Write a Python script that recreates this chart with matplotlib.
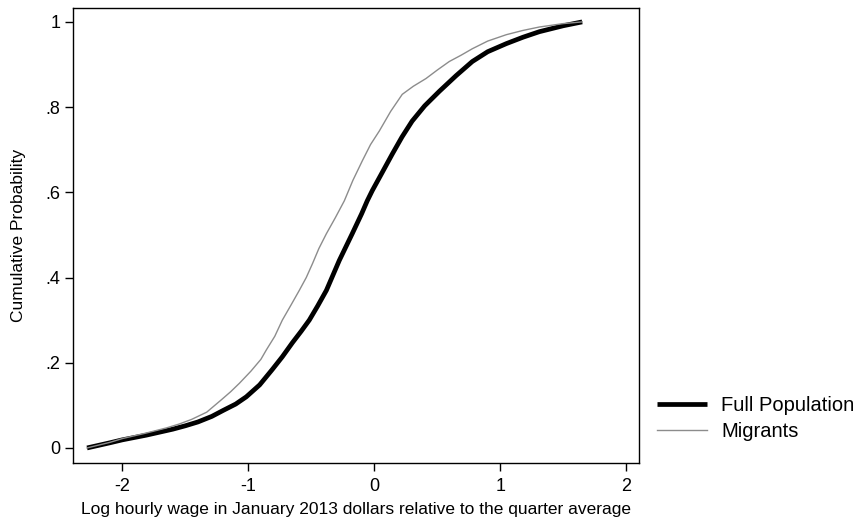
import matplotlib
matplotlib.use("Agg")
import matplotlib.pyplot as plt

# Full population CDF (x = log wage, y = cumulative probability)
full_x = [-2.28, -2.1, -2.0, -1.81, -1.6, -1.5, -1.4, -1.29, -1.2, -1.1, -1.016, -0.91, -0.81,
          -0.73, -0.65, -0.58, -0.516, -0.45, -0.38, -0.278, -0.175, -0.10, -0.056, -0.016,
          0.06, 0.143, 0.22, 0.30, 0.40, 0.516, 0.65, 0.778, 0.90, 1.048, 1.18, 1.31, 1.5, 1.65]
full_y = [0.0, 0.012, 0.019, 0.030, 0.044, 0.052, 0.061, 0.074, 0.088, 0.103, 0.120, 0.148, 0.184,
          0.214, 0.247, 0.274, 0.300, 0.333, 0.370, 0.440, 0.503, 0.550, 0.580, 0.604,
          0.645, 0.690, 0.730, 0.767, 0.803, 0.837, 0.874, 0.907, 0.930, 0.949, 0.964, 0.977, 0.991, 1.0]

# Migrants CDF
mig_x = [-2.28, -2.1, -2.0, -1.81, -1.65, -1.55, -1.45, -1.33, -1.21, -1.14, -1.07, -0.98, -0.90,
         -0.857, -0.79, -0.73, -0.66, -0.595, -0.54, -0.49, -0.44, -0.38, -0.31, -0.238, -0.17,
         -0.095, -0.03, 0.04, 0.13, 0.222, 0.31, 0.41, 0.50, 0.595, 0.69, 0.778, 0.90, 1.048,
         1.18, 1.31, 1.5, 1.65]
mig_y = [0.0, 0.013, 0.022, 0.035, 0.047, 0.056, 0.067, 0.084, 0.114, 0.132, 0.152, 0.180, 0.208,
         0.230, 0.262, 0.300, 0.336, 0.370, 0.400, 0.433, 0.468, 0.503, 0.540, 0.580, 0.628,
         0.674, 0.712, 0.744, 0.790, 0.830, 0.849, 0.867, 0.887, 0.907, 0.922, 0.937, 0.955, 0.970,
         0.980, 0.988, 0.996, 1.0]

x_ticks = [-2, -1, 0, 1, 2]
x_ticklabels = ["-2", "-1", "0", "1", "2"]
y_ticks = [0, 0.2, 0.4, 0.6, 0.8, 1.0]
y_ticklabels = ["0", ".2", ".4", ".6", ".8", "1"]

plt.rcParams['font.family'] = ['Liberation Sans', 'DejaVu Sans']

fig = plt.figure(figsize=(8.61, 5.23), dpi=100)
ax = fig.add_axes([0.085, 0.115, 0.657, 0.870])

ax.plot(full_x, full_y, color='black', lw=3.4, label='Full Population', solid_capstyle='butt')
ax.plot(mig_x, mig_y, color='#8c8c8c', lw=1.0, label='Migrants')

ax.set_xlim(-2.39, 2.10)
ax.set_ylim(-0.035, 1.033)
ax.set_xticks(x_ticks)
ax.set_xticklabels(x_ticklabels)
ax.set_yticks(y_ticks)
ax.set_yticklabels(y_ticklabels)
ax.tick_params(axis='both', direction='out', length=6, width=1, labelsize=13, colors='black')
ax.tick_params(axis='x', pad=5)
ax.tick_params(axis='y', pad=3)
for s in ax.spines.values():
    s.set_linewidth(1.0)

ax.set_xlabel("Log hourly wage in January 2013 dollars relative to the quarter average", fontsize=12.5, labelpad=5)
ax.set_ylabel("Cumulative Probability", fontsize=12.5, labelpad=14)

ax.legend(loc='center left', bbox_to_anchor=(1.0, 0.098), frameon=False, fontsize=14.5,
          handlelength=2.5, handletextpad=0.7, labelspacing=0.35, borderaxespad=0.5)

fig.savefig("out.png", dpi=100)
